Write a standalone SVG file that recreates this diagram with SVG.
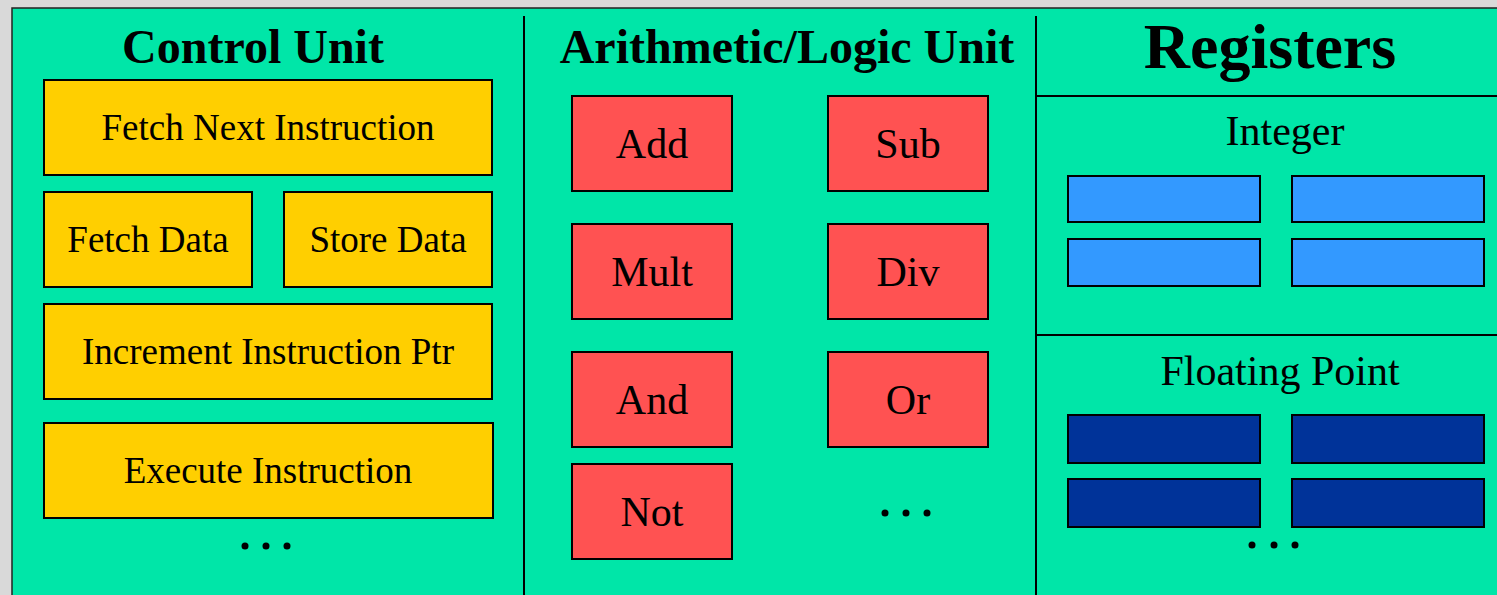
<svg xmlns="http://www.w3.org/2000/svg" width="1497" height="595" viewBox="0 0 1497 595">
<style>
.title{font-family:"Liberation Serif","Times New Roman",serif;font-weight:bold;font-size:48px;text-anchor:middle;fill:#000}
.big{font-size:64px}
.cu{font-family:"Liberation Serif","Times New Roman",serif;font-size:37px;text-anchor:middle;fill:#000}
.alu{font-family:"Liberation Serif","Times New Roman",serif;font-size:42px;text-anchor:middle;fill:#000}
.yb{fill:#FFCF00;stroke:#000;stroke-width:2}
.rb{fill:#FF5252;stroke:#000;stroke-width:2}
.ib{fill:#3399FF;stroke:#000;stroke-width:2}
.fb{fill:#003399;stroke:#000;stroke-width:2}
.div{stroke:#000;stroke-width:2;fill:none}
</style>
<rect x="0" y="0" width="1497" height="595" fill="#D9D9D9"/>
<rect x="12" y="8" width="1490" height="592" fill="#00E6A8" stroke="#222" stroke-width="1.5"/>
<g id="dividers">
<line class="div" x1="524" y1="16" x2="524" y2="595"/>
<line class="div" x1="1036" y1="16" x2="1036" y2="595"/>
<line class="div" x1="1036" y1="96" x2="1497" y2="96"/>
<line class="div" x1="1036" y1="335" x2="1497" y2="335"/>
</g>
<g id="control-unit">
<text class="title" x="253" y="63">Control Unit</text>
<g id="fetch-next"><rect class="yb" x="44" y="80" width="448" height="95"/><text class="cu" x="268" y="140">Fetch Next Instruction</text></g>
<g id="fetch-data"><rect class="yb" x="44" y="192" width="208" height="95"/><text class="cu" x="148" y="252">Fetch Data</text></g>
<g id="store-data"><rect class="yb" x="284" y="192" width="208" height="95"/><text class="cu" x="388" y="252">Store Data</text></g>
<g id="increment"><rect class="yb" x="44" y="304" width="448" height="95"/><text class="cu" x="268" y="364">Increment Instruction Ptr</text></g>
<g id="execute"><rect class="yb" x="44" y="423" width="449" height="95"/><text class="cu" x="268" y="483">Execute Instruction</text></g>
<g id="cu-dots"><circle cx="245" cy="546" r="3.5"/><circle cx="266" cy="546" r="3.5"/><circle cx="287" cy="546" r="3.5"/></g>
</g>
<g id="alu">
<text class="title" x="787" y="63">Arithmetic/Logic Unit</text>
<g id="add"><rect class="rb" x="572" y="96" width="160" height="95"/><text class="alu" x="652" y="158">Add</text></g>
<g id="sub"><rect class="rb" x="828" y="96" width="160" height="95"/><text class="alu" x="908" y="158">Sub</text></g>
<g id="mult"><rect class="rb" x="572" y="224" width="160" height="95"/><text class="alu" x="652" y="286">Mult</text></g>
<g id="div"><rect class="rb" x="828" y="224" width="160" height="95"/><text class="alu" x="908" y="286">Div</text></g>
<g id="and"><rect class="rb" x="572" y="352" width="160" height="95"/><text class="alu" x="652" y="414">And</text></g>
<g id="or"><rect class="rb" x="828" y="352" width="160" height="95"/><text class="alu" x="908" y="414">Or</text></g>
<g id="not"><rect class="rb" x="572" y="464" width="160" height="95"/><text class="alu" x="652" y="526">Not</text></g>
<g id="alu-dots"><circle cx="885" cy="513" r="3.5"/><circle cx="906" cy="513" r="3.5"/><circle cx="927" cy="513" r="3.5"/></g>
</g>
<g id="registers">
<text class="title big" x="1270" y="68">Registers</text>
<g id="integer">
<text class="alu" x="1285" y="145">Integer</text>
<rect class="ib" x="1068" y="176" width="192" height="46"/>
<rect class="ib" x="1292" y="176" width="192" height="46"/>
<rect class="ib" x="1068" y="239" width="192" height="47"/>
<rect class="ib" x="1292" y="239" width="192" height="47"/>
</g>
<g id="floating-point">
<text class="alu" x="1280" y="385">Floating Point</text>
<rect class="fb" x="1068" y="415" width="192" height="48"/>
<rect class="fb" x="1292" y="415" width="192" height="48"/>
<rect class="fb" x="1068" y="479" width="192" height="48"/>
<rect class="fb" x="1292" y="479" width="192" height="48"/>
<circle cx="1252" cy="545" r="3.5"/><circle cx="1274" cy="545" r="3.5"/><circle cx="1295" cy="545" r="3.5"/>
</g>
</g>
</svg>
